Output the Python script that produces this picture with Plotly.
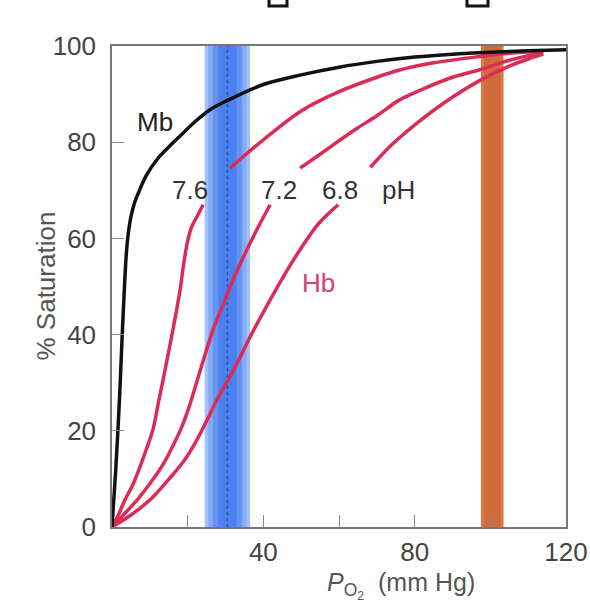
import plotly.graph_objects as go

# ---- data ----
mb_x = [0, 1, 2, 2.7, 3.3, 3.8, 4.3, 5, 6, 7, 9, 12, 15, 18, 22, 26, 30, 40, 50, 60, 70, 80, 90, 100, 110, 120]
mb_y = [0, 12, 27, 40, 50, 57, 61, 64.5, 67.5, 69.5, 73, 76.5, 79, 81.3, 84.3, 86.8, 88.5, 92, 94, 95.6, 96.8, 97.7, 98.3, 98.7, 99, 99.2]

hb76_lo_x = [0, 1.5, 3.4, 5.5, 7.4, 9, 10.8, 12.4, 13.5, 16.1, 18, 19, 20, 21, 22.5, 24.1]
hb76_lo_y = [0, 2.2, 5.6, 8.8, 12.5, 16, 20.2, 26.4, 30.6, 41, 49.3, 55, 59.5, 62.3, 64.6, 67]
hb76_hi_x = [31.2, 40, 50, 60, 70, 76, 85, 97, 105, 114]
hb76_hi_y = [74.6, 80.5, 86.5, 90.5, 93.5, 95, 96.5, 97.8, 98.5, 98.9]

hb72_lo_x = [0, 3, 6.6, 10, 13.5, 16.5, 18.8, 20.6, 23.3, 26.7, 29.5, 32, 37.3, 41.8]
hb72_lo_y = [0, 2.5, 5.6, 9, 13, 17.5, 21.5, 25.5, 32.5, 41, 46.5, 51.4, 60.3, 67]
hb72_hi_x = [49.7, 55, 60, 65, 70, 76, 82, 90, 97, 104, 110, 114]
hb72_hi_y = [74.6, 77.5, 80.3, 83, 85.5, 88.8, 91, 93.5, 95, 96.8, 98, 98.6]

hb68_lo_x = [0, 5, 10, 14, 18.8, 22, 25.1, 27.7, 31, 34, 36.5, 39.2, 42, 46, 50, 54, 57, 59.8]
hb68_lo_y = [0, 2.5, 5.6, 9, 13.5, 17.5, 22.2, 26.4, 31, 35.5, 39.5, 43.5, 47.5, 53, 58, 62.5, 65, 67]
hb68_hi_x = [68.3, 74, 80.7, 88, 97.4, 105, 110, 114]
hb68_hi_y = [74.8, 79.5, 84, 88.3, 92.9, 95.8, 97.3, 98.3]

tissues_range = [24.5, 36.5]
lungs_range = [97.5, 103.5]

x_ticks = [40, 80, 120]
x_minor_ticks = [20, 60, 100]
y_ticks = [0, 20, 40, 60, 80, 100]

ph_labels = ["7.6", "7.2", "6.8", "pH"]
ph_label_x = [20.6, 44.2, 60.3, 75.7]
ph_label_y = 70

RED = "#dc2b55"
BLACK = "#111111"
FONT = "Liberation Sans, Arial, sans-serif"
FS = 26

fig = go.Figure()

def add_line(x, y, color):
    fig.add_trace(go.Scatter(x=x, y=y, mode="lines",
                             line=dict(color=color, width=3.5, shape="spline", smoothing=0.9),
                             hoverinfo="skip", showlegend=False))

add_line(hb76_lo_x, hb76_lo_y, RED)
add_line(hb76_hi_x, hb76_hi_y, RED)
add_line(hb72_lo_x, hb72_lo_y, RED)
add_line(hb72_hi_x, hb72_hi_y, RED)
add_line(hb68_lo_x, hb68_lo_y, RED)
add_line(hb68_hi_x, hb68_hi_y, RED)
add_line(mb_x, mb_y, BLACK)

# tissues band (layered to imitate gradient)
t0, t1 = tissues_range
w = t1 - t0
blues = [(0.0, "#a3c0f7"), (0.08, "#86aaf5"), (0.18, "#6593f2"), (0.3, "#4a80ef")]
for frac, col in blues:
    fig.add_vrect(x0=t0 + w * frac, x1=t1 - w * frac, fillcolor=col, line_width=0,
                  layer="below", opacity=1)
fig.add_vline(x=(t0 + t1) / 2, line=dict(color="#2a5a7a", width=1.4, dash="dot"), layer="below")

# lungs band
l0, l1 = lungs_range
fig.add_vrect(x0=l0, x1=l1, fillcolor="#dc7a42", line_width=0, layer="below")
fig.add_vrect(x0=l0 + 0.8, x1=l1 - 0.8, fillcolor="#d06c3c", line_width=0, layer="below")

# text labels
anns = []
for t, xx in zip(ph_labels, ph_label_x):
    anns.append(dict(x=xx, y=ph_label_y, text=t, showarrow=False,
                     font=dict(size=FS, color="#333333", family=FONT)))
anns.append(dict(x=11.4, y=84.2, text="Mb", showarrow=False,
                 font=dict(size=FS, color="#222222", family=FONT)))
anns.append(dict(x=54.5, y=50.7, text="Hb", showarrow=False,
                 font=dict(size=FS, color="#d8406e", family=FONT)))
anns.append(dict(x=30.2, y=105, text="Tissues", showarrow=False,
                 font=dict(size=FS, color="#6a95f0", family=FONT)))
anns.append(dict(x=100.5, y=105, text="Lungs", showarrow=False,
                 font=dict(size=FS, color="#ea6788", family=FONT)))
anns.append(dict(x=-0.185, y=0.5, xref="paper", yref="paper", text="% Saturation",
                 textangle=-90, showarrow=False,
                 font=dict(size=FS, color="#555555", family=FONT)))
anns.append(dict(x=76.5, y=-0.082, xref="x", yref="paper", yanchor="top",
                 text="<i>P</i><sub>O<sub>2</sub></sub>  (mm Hg)", showarrow=False,
                 font=dict(size=25, color="#555555", family=FONT)))

# small bracket artefacts at the very top
for x0, x1 in [(269, 287), (467, 488)]:
    fig.add_shape(type="rect", xref="paper", yref="paper",
                  x0=(x0 - 112) / 454, x1=(x1 - 112) / 454,
                  y0=(527 - 6) / 481, y1=(527 + 4) / 481,
                  line=dict(color="#111111", width=3), fillcolor="rgba(0,0,0,0)")

tick_style = dict(ticks="inside", ticklen=12, tickwidth=1.4, tickcolor="#7f8f7f")

fig.update_layout(
    width=590, height=603,
    margin=dict(l=112, r=24, t=46, b=76, autoexpand=False),
    paper_bgcolor="white", plot_bgcolor="white",
    annotations=anns,
    font=dict(family=FONT, size=FS, color="#333333"),
    xaxis=dict(range=[0, 120], tickvals=x_ticks, automargin=False,
               minor=dict(tickvals=x_minor_ticks, showgrid=False, **tick_style),
               showgrid=False, zeroline=False, showline=True, linecolor="#777777",
               linewidth=1.5, mirror=True, ticklabelstandoff=1,
               tickfont=dict(size=FS, color="#444444", family=FONT), **tick_style),
    yaxis=dict(range=[0, 100], tickvals=y_ticks, automargin=False,
               showgrid=False, zeroline=False, showline=True, linecolor="#777777",
               linewidth=1.5, mirror=True, ticklabelstandoff=9,
               tickfont=dict(size=FS, color="#444444", family=FONT), **tick_style),
)

fig.write_html("out.html", config={"displayModeBar": False},
               post_script="document.body.style.margin='0px';")
